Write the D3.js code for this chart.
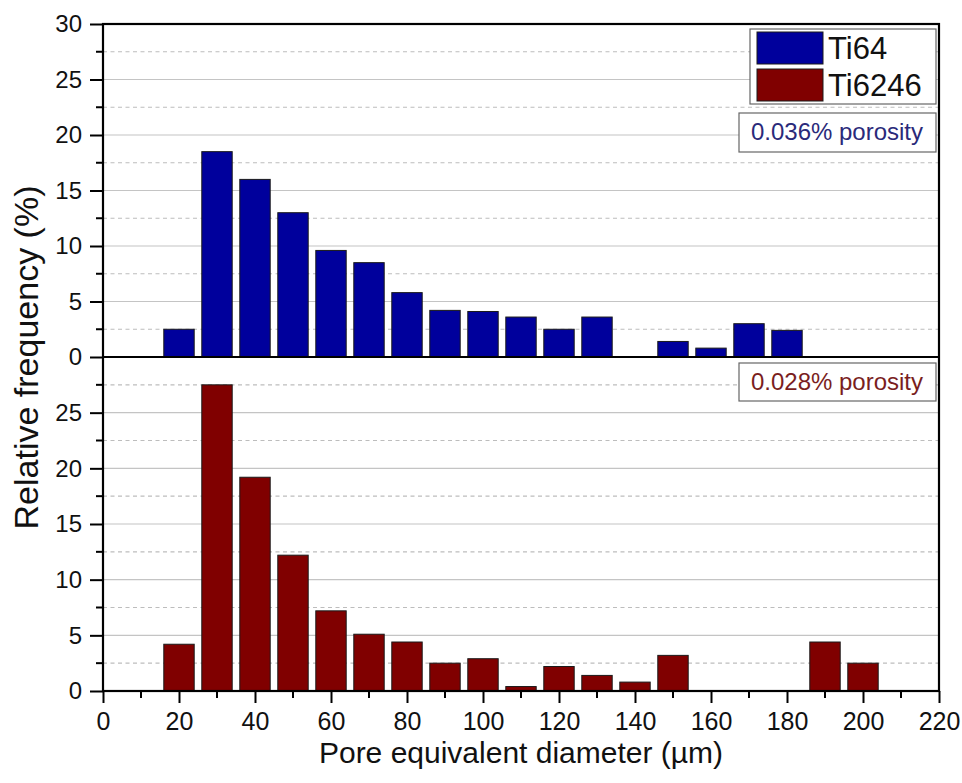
<!DOCTYPE html>
<html><head><meta charset="utf-8">
<script src="https://cdn.jsdelivr.net/npm/d3@7"></script>
<style>
html,body{margin:0;padding:0;background:#fff;}
svg text{font-family:"Liberation Sans",Arial,sans-serif;}
</style></head>
<body><svg id="c" width="962" height="783"></svg>
<script>
const bins = [20,30,40,50,60,70,80,90,100,110,120,130,140,150,160,170,180,190,200];
const ti64 = [2.5,18.5,16.0,13.0,9.6,8.5,5.8,4.2,4.1,3.6,2.5,3.6,0,1.4,0.8,3.0,2.4,0,0];
const ti6246 = [4.2,27.5,19.2,12.2,7.2,5.1,4.4,2.5,2.9,0.4,2.2,1.4,0.8,3.2,0,0,0,4.4,2.5];
const seriesNames = ["Ti64","Ti6246"];
const porosity = ["0.036% porosity","0.028% porosity"];
const xTicks = [0,20,40,60,80,100,120,140,160,180,200,220];
const yTicksTop = [0,5,10,15,20,25,30];
const yTicksBottom = [0,5,10,15,20,25];
const xTitle = "Pore equivalent diameter (µm)";
const yTitle = "Relative frequency (%)";

const colors = ["#00009c","#800000"];
const textColors = ["#2a2a7a","#7a1e1e"];
const svg = d3.select("#c");
const L = 103, R = 939, T = 24, M = 357, B = 691;
const x = d3.scaleLinear([0,220],[L,R]);
const yTop = d3.scaleLinear([0,30],[M,T]);
const yBot = d3.scaleLinear([0,30],[B,M]);

function grid(y){
  const g = svg.append("g");
  for(let v=5; v<30; v+=5){
    g.append("line").attr("x1",L).attr("x2",R).attr("y1",y(v)).attr("y2",y(v))
      .attr("stroke","#c4c4c4").attr("stroke-width",1.2);
  }
  for(let v=2.5; v<30; v+=5){
    g.append("line").attr("x1",L).attr("x2",R).attr("y1",y(v)).attr("y2",y(v))
      .attr("stroke","#bdbdbd").attr("stroke-width",1.2).attr("stroke-dasharray","4,3.5");
  }
}
grid(yTop); grid(yBot);

function bars(vals, y, color){
  svg.append("g").selectAll("rect").data(bins.map((b,i)=>({b,v:vals[i]})).filter(d=>d.v>0))
    .join("rect")
    .attr("x",d=>x(d.b-4)).attr("width",d=>x(d.b+4)-x(d.b-4))
    .attr("y",d=>y(d.v)).attr("height",d=>y(0)-y(d.v))
    .attr("fill",color).attr("stroke","#1a1a1a").attr("stroke-width",1);
}
bars(ti64,yTop,colors[0]);
bars(ti6246,yBot,colors[1]);

// Y axes
function yAxis(y, ticks){
  const g = svg.append("g").attr("transform",`translate(${L},0)`)
    .call(d3.axisLeft(y).tickValues(ticks).tickSize(13).tickPadding(8).tickFormat(d3.format("d")));
  g.select(".domain").remove();
  g.selectAll(".tick line").attr("stroke","#000").attr("stroke-width",2);
  g.selectAll(".tick text").attr("font-size",24).attr("fill","#111").attr("font-family","Liberation Sans, Arial, sans-serif");
  const minor = d3.range(2.5,30,5);
  g.selectAll(".mn").data(minor).join("line").attr("class","mn")
    .attr("x1",-7).attr("x2",0).attr("y1",d=>y(d)).attr("y2",d=>y(d))
    .attr("stroke","#000").attr("stroke-width",2);
}
yAxis(yTop,yTicksTop);
yAxis(yBot,yTicksBottom);

// X axis
const gx = svg.append("g").attr("transform",`translate(0,${B})`)
  .call(d3.axisBottom(x).tickValues(xTicks).tickSize(12).tickPadding(9).tickFormat(d3.format("d")));
gx.select(".domain").remove();
gx.selectAll(".tick line").attr("stroke","#000").attr("stroke-width",2);
gx.selectAll(".tick text").attr("font-size",25).attr("fill","#111").attr("font-family","Liberation Sans, Arial, sans-serif");
gx.selectAll(".mn").data(d3.range(10,220,20)).join("line").attr("class","mn")
  .attr("x1",d=>x(d)).attr("x2",d=>x(d)).attr("y1",0).attr("y2",7)
  .attr("stroke","#000").attr("stroke-width",2);

// frame
svg.append("rect").attr("x",L).attr("y",T).attr("width",R-L).attr("height",B-T)
  .attr("fill","none").attr("stroke","#000").attr("stroke-width",2.2);
svg.append("line").attr("x1",L).attr("x2",R).attr("y1",M).attr("y2",M)
  .attr("stroke","#000").attr("stroke-width",2.2);

// legend
const lg = svg.append("g");
lg.append("rect").attr("x",750).attr("y",29).attr("width",186).attr("height",75)
  .attr("fill","#fff").attr("stroke","#666").attr("stroke-width",1.2);
seriesNames.forEach((n,i)=>{
  lg.append("rect").attr("x",757).attr("y",32+i*37).attr("width",66).attr("height",32)
    .attr("fill",colors[i]).attr("stroke","#1a1a1a").attr("stroke-width",1);
  lg.append("text").attr("x",828).attr("y",59+i*37).attr("font-size",31).attr("fill","#111").text(n);
});

// porosity boxes
const pb = [{y:113,h:39,cx:837},{y:363,h:38,cx:837}];
porosity.forEach((p,i)=>{
  svg.append("rect").attr("x",739).attr("y",pb[i].y).attr("width",197).attr("height",pb[i].h)
    .attr("fill","#fff").attr("stroke","#666").attr("stroke-width",1.2);
  svg.append("text").attr("x",pb[i].cx).attr("y",pb[i].y+27).attr("text-anchor","middle")
    .attr("font-size",24).attr("fill",textColors[i]).text(p);
});

// titles
svg.append("text").attr("x",(L+R)/2).attr("y",763).attr("text-anchor","middle")
  .attr("font-size",30).attr("fill","#111").text(xTitle);
svg.append("text").attr("transform",`translate(38,${(T+B)/2}) rotate(-90)`).attr("text-anchor","middle")
  .attr("font-size",34).attr("fill","#111").text(yTitle);
</script></body></html>
